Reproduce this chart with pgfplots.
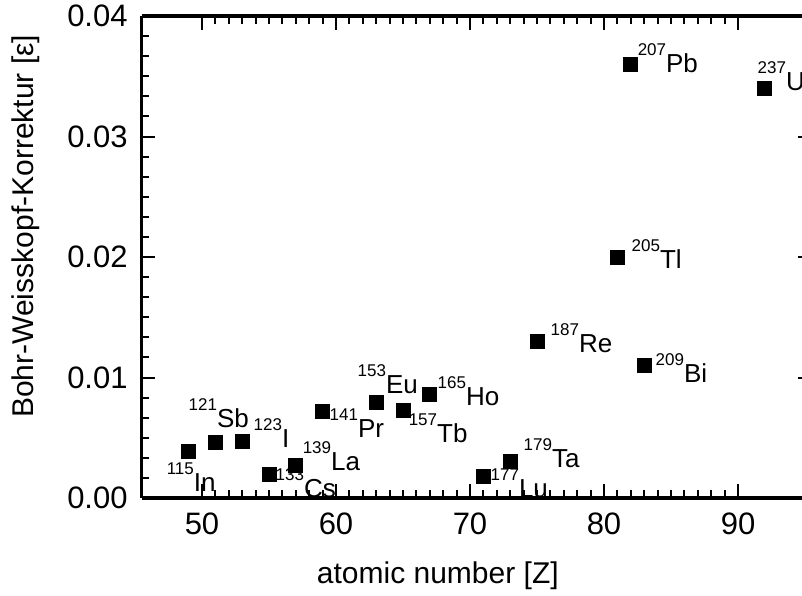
\documentclass[border=0pt]{standalone}
\usepackage{fontspec}
\setmainfont{Liberation Sans}
\usepackage{pgfplots}
\pgfplotsset{compat=1.18}

% isotope label: mass number raised, element symbol
\newcommand{\iso}[2]{\raisebox{8.5pt}{\fontsize{8.5}{9}\selectfont #1}#2}

\tikzset{
  lab/.style={anchor=base west, inner sep=0pt, font=\fontsize{13}{15}\selectfont},
}

\begin{document}
\begin{tikzpicture}
\begin{axis}[
  scale only axis, width=335pt, height=241pt,
  xmin=45.5, xmax=95.5, ymin=0, ymax=0.04,
  xtick={50,60,70,80,90},
  ytick={0,0.01,0.02,0.03,0.04},
  minor x tick num=9, minor y tick num=5,
  tick align=inside, tick pos=both,
  major tick length=6.8pt, minor tick length=3.8pt,
  separate axis lines,
  every outer x axis line/.append style={line width=1.6pt},
  every outer y axis line/.append style={line width=1.6pt},
  every tick/.style={black, line width=1pt},
  scaled y ticks=false,
  /pgf/number format/assume math mode=true,
  yticklabel style={/pgf/number format/fixed, /pgf/number format/fixed zerofill,
                    /pgf/number format/precision=2},
  tick label style={font=\fontsize{15.5}{18}\selectfont, inner sep=0pt},
  yticklabel style={anchor=east, xshift=-6.85pt},
  xticklabel style={anchor=north, yshift=-7pt},
  label style={font=\fontsize{15}{18}\selectfont, inner sep=0pt},
  xlabel={atomic number [Z]},
  ylabel={Bohr-Weisskopf-Korrektur [ε]},
  xlabel style={at={(axis description cs:0.442,0)}, anchor=base, yshift=-42.5pt},
  ylabel style={at={(axis description cs:0,0.5636)}, anchor=center, yshift=57.85pt},
  clip=false,
]
\addplot[only marks, mark=square*, mark size=3.5pt, black] coordinates {
  (49,0.0039) (51,0.0046) (53,0.0047) (55,0.0020) (57,0.0027)
  (59,0.0072) (63,0.0079) (65,0.0073) (67,0.0086) (71,0.0018)
  (73,0.0030) (75,0.0130) (81,0.0200) (82,0.0360) (83,0.0110)
  (92,0.0340)
};
\node[lab] at (axis cs:47.34,0.0005) {\iso{115}{In}};
\node[lab] at (axis cs:48.98,0.00588) {\iso{121}{Sb}};
\node[lab] at (axis cs:53.83,0.00423) {\iso{123}{I}};
\node[lab] at (axis cs:55.47,0.00008) {\iso{133}{Cs}};
\node[lab] at (axis cs:57.49,0.00232) {\iso{139}{La}};
\node[lab] at (axis cs:59.50,0.00505) {\iso{141}{Pr}};
\node[lab] at (axis cs:61.59,0.0087) {\iso{153}{Eu}};
\node[lab] at (axis cs:65.40,0.00464) {\iso{157}{Tb}};
\node[lab] at (axis cs:67.56,0.0077) {\iso{165}{Ho}};
\node[lab] at (axis cs:71.51,0.00008) {\iso{177}{Lu}};
\node[lab] at (axis cs:73.98,0.00257) {\iso{179}{Ta}};
\node[lab] at (axis cs:75.99,0.0121) {\iso{187}{Re}};
\node[lab] at (axis cs:82.04,0.01906) {\iso{205}{Tl}};
\node[lab] at (axis cs:82.49,0.0353) {\iso{207}{Pb}};
\node[lab] at (axis cs:83.83,0.00961) {\iso{209}{Bi}};
\node[lab] at (axis cs:91.44,0.0338) {\iso{237}{U}};
\end{axis}
\pgfresetboundingbox
\path[use as bounding box] (-70.85pt,-48.5pt) rectangle (330.15pt,249pt);
\end{tikzpicture}
\end{document}
